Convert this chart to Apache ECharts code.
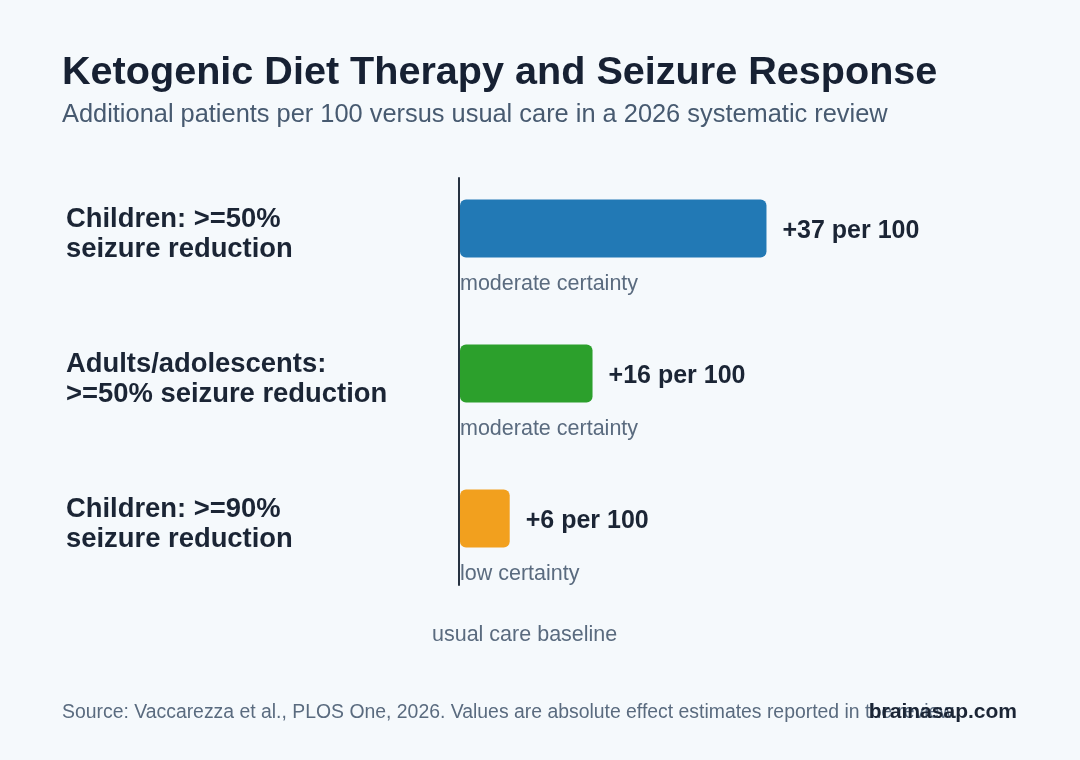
<!DOCTYPE html>
<html>
<head>
<meta charset="utf-8">
<script src="https://cdn.jsdelivr.net/npm/echarts@6/dist/echarts.min.js"></script>
<style>
  html, body { margin: 0; padding: 0; background: #f5f9fc; }
  #chart { width: 1080px; height: 760px; }
</style>
</head>
<body>
<div id="chart"></div>
<script>
var categories = [
  "Children: >=50%\nseizure reduction",
  "Adults/adolescents:\n>=50% seizure reduction",
  "Children: >=90%\nseizure reduction"
];
var effects = [37, 16, 6];
var certainty = ["moderate certainty", "moderate certainty", "low certainty"];
var barColors = ["#2279b5", "#2ca02c", "#f2a01e"];

var font = "'Liberation Sans'";
var dark = "#1b2535";
var muted = "#5a6b7f";

var chart = echarts.init(document.getElementById("chart"));

chart.setOption({
  backgroundColor: "#f5f9fc",
  animation: false,
  textStyle: { fontFamily: font },
  title: [
    {
      text: "Ketogenic Diet Therapy and Seizure Response",
      subtext: "Additional patients per 100 versus usual care in a 2026 systematic review",
      left: 57,
      top: 48,
      itemGap: 9,
      textStyle: { fontSize: 39.6, fontWeight: "bold", color: "#172133", fontFamily: font },
      subtextStyle: { fontSize: 25.4, color: "#475a70", fontFamily: font }
    },
    {
      text: "usual care baseline",
      left: 427,
      top: 619,
      textStyle: { fontSize: 21.5, fontWeight: "normal", color: muted, fontFamily: font }
    },
    {
      text: "Source: Vaccarezza et al., PLOS One, 2026. Values are absolute effect estimates reported in the review.",
      left: 57,
      top: 698,
      textStyle: { fontSize: 19.4, fontWeight: "normal", color: muted, fontFamily: font }
    },
    {
      text: "brainasap.com",
      right: 58,
      top: 697,
      textStyle: { fontSize: 21, fontWeight: "bold", color: dark, fontFamily: font }
    }
  ],
  grid: [
    { left: 460, top: 156, width: 497, height: 435 },
    // thin grid used only for the baseline rule
    { left: 459, top: 178, width: 1, height: 407 },
    // label grid, sits a little lower than the bars
    { left: 460, top: 162, width: 497, height: 435 }
  ],
  xAxis: [
    { type: "value", gridIndex: 0, min: 0, max: 60, show: false },
    { type: "value", gridIndex: 1, min: 0, max: 1, show: false },
    { type: "value", gridIndex: 2, min: 0, max: 60, show: false }
  ],
  yAxis: [
    {
      type: "category",
      gridIndex: 0,
      data: categories,
      inverse: true,
      show: false
    },
    {
      type: "value",
      gridIndex: 1,
      min: 0,
      max: 1,
      axisLine: { show: true, lineStyle: { color: "#263241", width: 2 } },
      axisTick: { show: false },
      axisLabel: { show: false },
      splitLine: { show: false }
    },
    {
      type: "category",
      gridIndex: 2,
      data: categories,
      inverse: true,
      axisLine: { show: false },
      axisTick: { show: false },
      splitLine: { show: false },
      axisLabel: {
        align: "left",
        margin: 394,
        fontSize: 27.4,
        fontWeight: "bold",
        lineHeight: 30,
        color: dark,
        fontFamily: font
      }
    }
  ],
  series: [
    {
      type: "bar",
      xAxisIndex: 0,
      yAxisIndex: 0,
      barWidth: 58,
      data: effects.map(function (v, i) {
        return { value: v, itemStyle: { color: barColors[i] } };
      }),
      itemStyle: { borderRadius: 6 },
      label: {
        show: true,
        position: "right",
        distance: 16,
        offset: [0, 3],
        formatter: function (p) { return "+" + p.value + " per 100"; },
        fontSize: 25,
        fontWeight: "bold",
        color: dark,
        fontFamily: font
      }
    },
    {
      type: "bar",
      xAxisIndex: 0,
      yAxisIndex: 0,
      barWidth: 58,
      barGap: "-100%",
      silent: true,
      data: effects,
      itemStyle: { color: "rgba(0,0,0,0)" },
      label: {
        show: true,
        position: [0, "100%"],
        offset: [0, 27],
        align: "left",
        verticalAlign: "middle",
        formatter: function (p) { return certainty[p.dataIndex]; },
        fontSize: 21.5,
        color: muted,
        fontFamily: font
      }
    }
  ]
});
</script>
</body>
</html>
